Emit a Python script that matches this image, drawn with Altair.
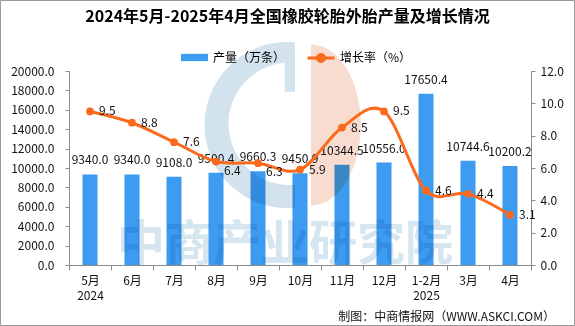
import altair as alt
import pandas as pd

# ---- data ----
months = ["5月", "6月", "7月", "8月", "9月", "10月", "11月", "12月", "1-2月", "3月", "4月"]
years = ["2024", "", "", "", "", "", "", "", "2025", "", ""]
output = [9340.0, 9340.0, 9108.0, 9500.4, 9660.3, 9450.9, 10344.5, 10556.0, 17650.4, 10744.6, 10200.2]
growth = [9.5, 8.8, 7.6, 6.4, 6.3, 5.9, 8.5, 9.5, 4.6, 4.4, 3.1]
low_label_months = ["8月", "9月"]

title_text = "2024年5月-2025年4月全国橡胶轮胎外胎产量及增长情况"
bar_name = "产量（万条）"
line_name = "增长率（%）"
source_text = "制图：中商情报网（WWW.ASKCI.COM）"
watermark_text = "中商产业研究院"

cats = [m + "\n" + y if y else m for m, y in zip(months, years)]
df = pd.DataFrame({"cat": cats, "month": months, "output": output, "growth": growth})

FONT = "Noto Sans CJK SC"
BLUE = "#3d9cf0"
ORANGE = "#fb6a1c"
AXIS_GRAY = "#8c8c8c"

W, H = 462, 194

x_enc = alt.X(
    "cat:N", sort=cats,
    scale=alt.Scale(paddingInner=0, paddingOuter=0),
    axis=alt.Axis(title=None, labelAngle=0,
                  labelExpr="indexof(datum.label, '\\n') >= 0 ? split(datum.label, '\\n') : datum.label",
                  tickBand="extent", tickSize=5, tickColor=AXIS_GRAY, domainColor=AXIS_GRAY,
                  labelPadding=5, labelFontSize=12, labelLineHeight=15, labelColor="#111",
                  labelBaseline="top"),
)

y_left = alt.Y(
    "output:Q", scale=alt.Scale(domain=[0, 20000]),
    axis=alt.Axis(title=None, values=list(range(0, 20001, 2000)), format=".1f", grid=False,
                  tickSize=4, tickColor=AXIS_GRAY, domainColor=AXIS_GRAY, labelPadding=11,
                  labelFontSize=12, labelColor="#111"),
)
y_right = alt.Y(
    "growth:Q", scale=alt.Scale(domain=[0, 12]),
    axis=alt.Axis(title=None, orient="right", values=list(range(0, 13, 2)), format=".1f", grid=False,
                  tickSize=4, tickColor=AXIS_GRAY, domainColor=AXIS_GRAY, labelPadding=5,
                  labelFontSize=12, labelColor="#111"),
)

base = alt.Chart(df)

bars = base.transform_calculate(series=f"'{bar_name}'").mark_bar(size=15).encode(
    x=x_enc, y=y_left,
    color=alt.Color("series:N", scale=alt.Scale(domain=[bar_name], range=[BLUE]),
                    legend=alt.Legend(title=None, orient="none", legendX=111, legendY=-28,
                                      symbolType="M-1,-0.27H1V0.27H-1Z", symbolSize=729,
                                      labelFontSize=12, labelOffset=4, padding=0)),
)
bar_text = base.mark_text(baseline="bottom", dy=-7, fontSize=12, color="#111").encode(
    x=x_enc, y=y_left, text=alt.Text("output:Q", format=".1f"),
)
left = alt.layer(bars, bar_text)

one = pd.DataFrame({"k": [0]})
logo_path = ("M0.084,-0.996 A1,1 0 1,0 0.084,0.996 L0.084,0.72 "
             "A0.7,0.7 0 1,1 -0.04,-0.75 L-0.04,-0.4 L0.084,-0.4 Z")
pink_path = "M0.277,-0.97 A0.6,0.97 0 0,1 0.277,0.97 Z"
logo_blue = alt.Chart(one).mark_point(shape=logo_path, size=27556, filled=True, fill="#d3e3ee",
                                      strokeWidth=0, opacity=1, blend="multiply").encode(
    x=alt.value(219), y=alt.value(54))
logo_pink = alt.Chart(one).mark_point(shape=pink_path, size=27556, filled=True, fill="#f8dccf",
                                      strokeWidth=0, opacity=1, blend="multiply").encode(
    x=alt.value(219), y=alt.value(54))
wm_text = alt.Chart(one).mark_text(text=watermark_text, font=FONT, fontSize=48, fontWeight="bold",
                                   color="#d6e6f1", baseline="middle", align="center",
                                   blend="multiply").encode(
    x=alt.value(216), y=alt.value(175))

line = base.transform_calculate(series2=f"'{line_name}'").mark_line(
    interpolate="cardinal", strokeWidth=3).encode(
    x=x_enc, y=y_right,
    stroke=alt.Stroke("series2:N", scale=alt.Scale(domain=[line_name], range=[ORANGE]),
                      legend=alt.Legend(title=None, orient="none", legendX=237, legendY=-28,
                                        symbolType="M-1,0H1M-0.26,0A0.26,0.26,0,1,1,0.26,0A0.26,0.26,0,1,1,-0.26,0",
                                        symbolSize=729, symbolStrokeWidth=3, symbolFillColor=ORANGE,
                                        labelFontSize=12, labelOffset=4, padding=0)),
)
points = base.mark_point(filled=True, size=60, color=ORANGE, opacity=1).encode(x=x_enc, y=y_right)
line_lbl = base.transform_filter(
    ~alt.FieldOneOfPredicate(field="month", oneOf=low_label_months)
).mark_text(align="left", baseline="middle", dx=9, fontSize=12, color="#111").encode(
    x=x_enc, y=y_right, text=alt.Text("growth:Q", format=".1f"))
line_lbl_low = base.transform_filter(
    alt.FieldOneOfPredicate(field="month", oneOf=low_label_months)
).mark_text(align="left", baseline="middle", dx=8, dy=9, fontSize=12, color="#111").encode(
    x=x_enc, y=y_right, text=alt.Text("growth:Q", format=".1f"))
right = alt.layer(line, points, line_lbl, line_lbl_low)

title = alt.Chart(one).mark_text(text=title_text, font=FONT, fontSize=16, fontWeight="bold",
                                 align="center", baseline="middle", color="#000").encode(
    x=alt.value(218.5), y=alt.value(-54))
source = alt.Chart(one).mark_text(text=source_text, font=FONT, fontSize=12, align="right",
                                  baseline="middle", color="#111").encode(
    x=alt.value(486), y=alt.value(246))
frame = alt.Chart(one).mark_rect(fillOpacity=0, stroke="#999999", strokeWidth=1).encode(
    x=alt.value(-68.5), x2=alt.value(505.5), y=alt.value(-70.5), y2=alt.value(254.5))

chart = alt.layer(left, logo_blue, logo_pink, wm_text, right, title, source, frame).resolve_scale(
    y="independent", color="independent", stroke="independent"
).properties(
    width=W, height=H,
    autosize=alt.AutoSizeParams(type="none"),
    padding={"left": 69, "top": 71, "right": 44, "bottom": 61},
).configure(font=FONT).configure_view(stroke=None).configure_legend(labelFont=FONT)

chart.save("out.html", embed_options={"renderer": "svg", "actions": False})
